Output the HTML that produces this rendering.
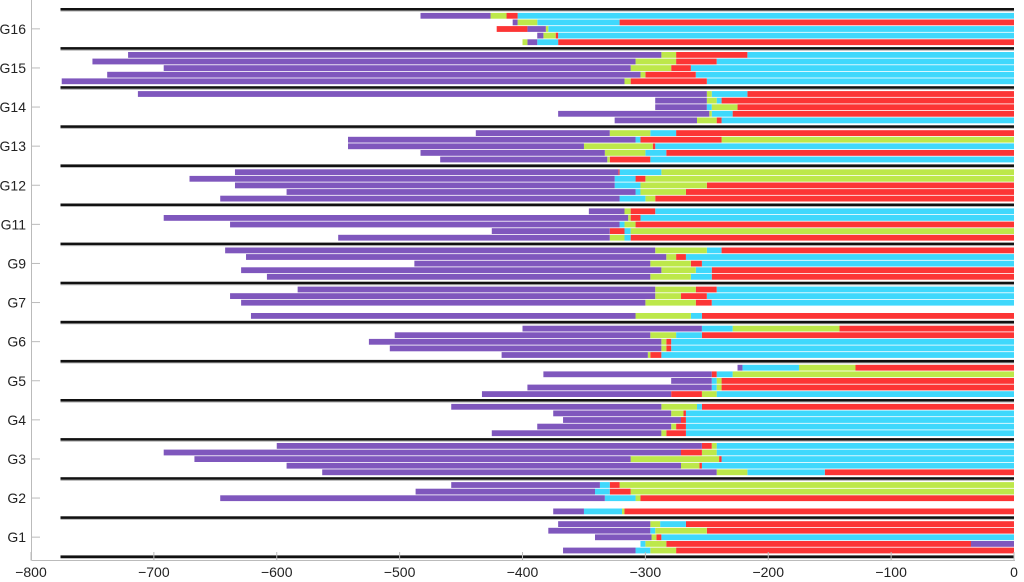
<!DOCTYPE html>
<html><head><meta charset="utf-8"><style>
html,body{margin:0;padding:0;background:#fff;}
svg{display:block;font-family:"Liberation Sans",sans-serif;}
</style></head><body>
<svg id="chart" width="1024" height="582" viewBox="0 0 1024 582"></svg>
<script>
const groups = ["G16","G15","G14","G13","G12","G11","G9","G7","G6","G5","G4","G3","G2","G1"];
const xTicks = [-800,-700,-600,-500,-400,-300,-200,-100,0];
// each bar: segments stacked from 0 leftward [colorCode, length]
const barsG16 = [[["C",404],["R",9],["G",13],["P",57]],[["R",321],["C",67],["G",16],["P",4]],[["C",379],["G",2],["P",15],["R",25]],[["C",371],["R",2],["G",10],["P",5]],[["R",371],["C",17],["P",8],["G",4]]];
const barsG15 = [[["C",217],["R",58],["G",12],["P",434]],[["C",242],["R",33],["G",33],["P",442]],[["C",263],["R",16],["G",33],["P",380]],[["C",259],["R",41],["G",4],["P",434]],[["C",250],["R",62],["G",5],["P",458]]];
const barsG14 = [[["R",217],["C",29],["G",4],["P",463]],[["R",238],["C",4],["G",8],["P",42]],[["R",225],["G",21],["C",4],["P",42]],[["R",229],["C",17],["G",2],["P",123]],[["C",238],["R",4],["G",16],["P",67]]];
const barsG13 = [[["R",275],["C",21],["G",33],["P",109]],[["G",238],["R",66],["C",4],["P",234]],[["C",292],["R",2],["G",56],["P",192]],[["R",283],["C",17],["G",33],["P",150]],[["C",296],["R",33],["G",2],["P",136]]];
const barsG12 = [[["G",287],["C",34],["R",1],["P",312]],[["G",300],["R",8],["C",17],["P",346]],[["R",250],["G",54],["C",21],["P",309]],[["R",267],["G",37],["C",4],["P",284]],[["R",292],["G",8],["C",21],["P",325]]];
const barsG11 = [[["C",292],["R",20],["G",5],["P",29]],[["C",304],["R",8],["G",2],["P",378]],[["R",308],["G",9],["C",4],["P",317]],[["G",312],["C",5],["R",12],["P",96]],[["R",312],["C",5],["G",12],["P",221]]];
const barsG9 = [[["R",238],["C",12],["G",42],["P",350]],[["C",267],["R",8],["G",8],["P",342]],[["C",254],["R",9],["G",33],["P",192]],[["R",246],["C",13],["G",28],["P",342]],[["R",246],["C",17],["G",33],["P",312]]];
const barsG7 = [[["C",242],["R",17],["G",33],["P",291]],[["C",250],["R",21],["G",21],["P",346]],[["C",246],["R",13],["G",41],["P",329]],[],[["R",254],["C",9],["G",45],["P",313]]];
const barsG6 = [[["R",142],["G",87],["C",25],["P",146]],[["R",254],["C",21],["G",21],["P",208]],[["C",279],["R",4],["G",4],["P",238]],[["C",279],["R",4],["G",4],["P",221]],[["C",287],["R",9],["G",2],["P",119]]];
const barsG5 = [[["R",129],["G",46],["C",46],["P",4]],[["G",229],["C",13],["R",4],["P",137]],[["R",238],["G",4],["C",4],["P",33]],[["R",238],["G",4],["C",4],["P",150]],[["C",242],["G",12],["R",25],["P",154]]];
const barsG4 = [[["R",254],["C",4],["G",29],["P",171]],[["C",267],["R",2],["G",10],["P",96]],[["C",267],["R",4],["P",96]],[["C",267],["R",8],["G",4],["P",109]],[["C",267],["R",16],["G",4],["P",138]]];
const barsG3 = [[["C",242],["G",4],["R",8],["P",346]],[["C",242],["G",12],["R",17],["P",421]],[["C",238],["R",2],["G",72],["P",355]],[["C",254],["R",2],["G",15],["P",321]],[["R",154],["C",63],["G",25],["P",321]]];
const barsG2 = [[["G",321],["R",8],["C",8],["P",121]],[["G",312],["R",17],["C",12],["P",146]],[["R",304],["G",4],["C",25],["P",313]],[],[["R",317],["G",2],["C",31],["P",25]]];
const barsG1 = [[["R",267],["C",21],["G",8],["P",75]],[["R",250],["G",42],["C",4],["P",83]],[["C",287],["R",4],["G",4],["P",46]],[["P",35],["R",248],["G",17],["C",4]],[["R",275],["G",21],["C",12],["P",59]]];
const allBars = [barsG16,barsG15,barsG14,barsG13,barsG12,barsG11,barsG9,barsG7,barsG6,barsG5,barsG4,barsG3,barsG2,barsG1];

const colors = {P:"#7f57bd",G:"#bde84a",C:"#3fd8fc",R:"#fc3535"};
const svg = document.getElementById('chart');
const NS = "http://www.w3.org/2000/svg";
const X0 = 1014, SX = 983/800;
function xs(v){ return X0 + v*SX; }
const top0 = 9.3, gh = 39.1, pitch = 6.6, bh = 5.8;
function mk(tag, attrs){ const e=document.createElementNS(NS,tag); for(const k in attrs) e.setAttribute(k,attrs[k]); svg.appendChild(e); return e; }

allBars.forEach((bars,gi)=>{
  bars.forEach((segs,ri)=>{
    let acc = 0;
    const y = top0 + gi*gh + 3.6 + ri*pitch;
    segs.forEach(([c,len])=>{
      const x1 = xs(acc - len), x2 = xs(acc);
      const r = mk('rect',{x:x1,y:y,width:Math.max(0.5,x2-x1),height:bh,fill:colors[c]});
      
      
      acc -= len;
    });
  });
});
for(let k=0;k<=groups.length;k++){
  const y = top0 + k*gh;
  const l = mk('rect',{x:xs(-776),y:y-1.3,width:xs(0)-xs(-776),height:2.6,fill:"#111"});
  
  
  mk('line',{x1:xs(-776),x2:xs(0),y1:y+1.8,y2:y+1.8,stroke:"#aaa","stroke-width":0.8});
}
// axes
const sp = mk('line',{x1:31.5,x2:31.5,y1:0,y2:560.5,stroke:"#bbb","stroke-width":1});


const ax = mk('line',{x1:31.5,x2:1015,y1:560.5,y2:560.5,stroke:"#bbb","stroke-width":1});


groups.forEach((g,gi)=>{
  const yc = top0 + gi*gh + gh/2;
  mk('line',{x1:31.5,x2:40,y1:yc,y2:yc,stroke:"#bbb","stroke-width":1});
  const t = mk('text',{x:26,y:yc+5,"text-anchor":"end","font-size":14,fill:"#222"});
  t.textContent = g;
  
  
});
xTicks.forEach(v=>{
  mk('line',{x1:xs(v),x2:xs(v),y1:552,y2:560.5,stroke:"#bbb","stroke-width":1});
  const t = mk('text',{x:xs(v),y:577,"text-anchor":"middle","font-size":14,fill:"#222"});
  t.textContent = v===0?"0":"\u2212"+Math.abs(v);
  
  
});
</script>
</body></html>
